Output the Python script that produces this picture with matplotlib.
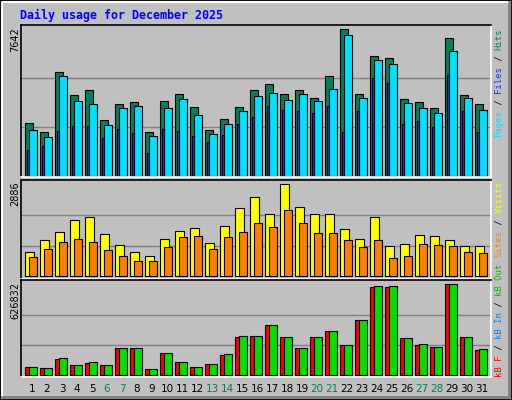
import matplotlib
matplotlib.use("Agg")
import matplotlib.pyplot as plt
from matplotlib.patches import Rectangle

days = list(range(1, 32))
weekend = [6, 7, 13, 14, 20, 21, 27, 28]
hits = [2744,2275,5402,4204,4464,2901,3735,3839,2275,3891,4256,3578,2380,2953,3578,4464,4777,4256,4464,4047,5194,7642,4256,6236,6132,3995,3839,3526,7174,4204,3735]
pages = [2380,2015,5194,3891,3735,2640,3526,3630,2067,3526,3995,3161,2171,2692,3370,4151,4308,3943,4256,3891,4516,7330,4047,6027,5819,3787,3526,3266,6496,4047,3422]
files = [1337,1546,2328,2588,2588,1963,2432,2223,1181,2432,2328,2067,1754,2119,2692,3057,3630,3422,3370,3266,3630,2275,3370,5089,4829,2692,2849,2536,5246,3370,2275]
visits = [753,1129,1380,1757,1851,1318,973,753,627,1161,1412,1506,1035,1569,2133,2478,1945,2886,2165,1945,1945,1474,1161,1851,941,1004,1286,1255,1129,941,941]
sites = [596,847,1067,1161,1067,816,627,471,471,910,1223,1255,847,1223,1380,1663,1537,2070,1663,1349,1349,1129,910,1129,565,627,1004,973,941,753,722]
kbf = [55104,48216,110208,68880,82656,68880,185976,185976,41328,151536,89544,55104,75768,137760,261744,268632,344400,261744,185976,261744,303072,206640,378840,606144,606144,254856,206640,192864,626832,261744,172200]
kbout = [55104,48216,117096,68880,89544,68880,185976,185976,41328,151536,89544,55104,75768,144648,268632,268632,344400,261744,185976,261744,303072,206640,378840,613032,613032,254856,213528,192864,626832,261744,179088]
title = "Daily usage for December 2025"

W, H = 512, 400
BG = "#c0c0c0"
fig = plt.figure(figsize=(W/100, H/100), dpi=100, facecolor=BG)
mono = "DejaVu Sans Mono"

# outer bevel
fig.patches.append(Rectangle((0, 0), 1, 1, transform=fig.transFigure, fill=False, ec="black", lw=2))
fig.add_artist(plt.Line2D([2/W, 2/W, 1-2/W], [2/H, 1-2/H, 1-2/H], transform=fig.transFigure, color="white", lw=1.5))
fig.add_artist(plt.Line2D([2/W, 1-3/W, 1-3/W], [3/H, 3/H, 1-2/H], transform=fig.transFigure, color="#808080", lw=2))

def ax_px(top, bottom):
    return fig.add_axes([20.7/W, 1-bottom/H, (490.7-20.7)/W, (bottom-top)/H])

xl = (0.693, 32.03)
def style(ax, ymax, ylo, yhi):
    ax.set_facecolor(BG)
    ax.set_xlim(*xl)
    ax.set_ylim(ylo, yhi)
    ax.set_xticks([]); ax.set_yticks([])
    for y in (ymax/3, 2*ymax/3):
        ax.axhline(y, color="#808080", lw=1, zorder=0)
    ax.spines["left"].set_color("black"); ax.spines["top"].set_color("black")
    ax.spines["right"].set_color("white"); ax.spines["bottom"].set_color("white")
    for s in ax.spines.values():
        s.set_linewidth(1.2)

kw = dict(align="edge", edgecolor="black", linewidth=0.8)
ax1 = ax_px(25, 177)
style(ax1, 7642, -52, 7866)
ax1.bar(days, hits, width=0.5, color="#00805c", **kw)
ax1.bar([d+0.27 for d in days], pages, width=0.5, color="#00e0ff", **kw)
ax1.bar([d+0.09 for d in days], files, width=0.17, color="#0040ff", **kw)

ax2 = ax_px(180, 279)
style(ax2, 2886, -85, 3021)
ax2.bar(days, visits, width=0.55, color="#ffff00", **kw)
ax2.bar([d+0.27 for d in days], sites, width=0.5, color="#ff8000", **kw)

ax3 = ax_px(280, 377)
style(ax3, 626832, -11710, 656450)
ax3.bar(days, kbf, width=0.3, color="#ff0000", **kw)
ax3.bar([d+0.27 for d in days], kbout, width=0.5, color="#00e000", **kw)

for d in days:
    ax3.text(d+0.45, -0.12, str(d), transform=ax3.get_xaxis_transform(), ha="center", va="center",
             fontsize=7.5, family="DejaVu Sans", color="#00805c" if d in weekend else "black")

fig.text(20/W, 1-15/H, title, family=mono, fontweight="bold", fontsize=8.4, color="#0000ff", ha="left", va="center")

for lab, ytop in ((str(max(hits)), 27), (str(max(visits)), 181), (str(max(kbf)), 282)):
    fig.text(15/W, 1-ytop/H, lab, rotation=90, ha="center", va="top", fontsize=7, family="DejaVu Sans")

cw = 5.4
def rlabel(parts, ybottom):
    off = 0
    for txt, col in parts:
        fig.text(499/W, 1-(ybottom-off*cw)/H, txt, rotation=90, ha="center", va="bottom",
                 family=mono, fontsize=6.4, color=col)
        off += len(txt)

rlabel([("Pages", "#00e0ff"), (" / ", "#000000"), ("Files", "#0040ff"), (" / ", "#000000"), ("Hits", "#00805c")], 136.7)
rlabel([("Sites", "#ff8000"), (" / ", "#000000"), ("Visits", "#ffff00")], 256.7)
rlabel([("kB F", "#ff0000"), (" / ", "#000000"), ("kB In", "#0080ff"), (" / ", "#000000"), ("kB Out", "#00c000")], 376.7)

fig.savefig("out.png", dpi=100, facecolor=BG)
